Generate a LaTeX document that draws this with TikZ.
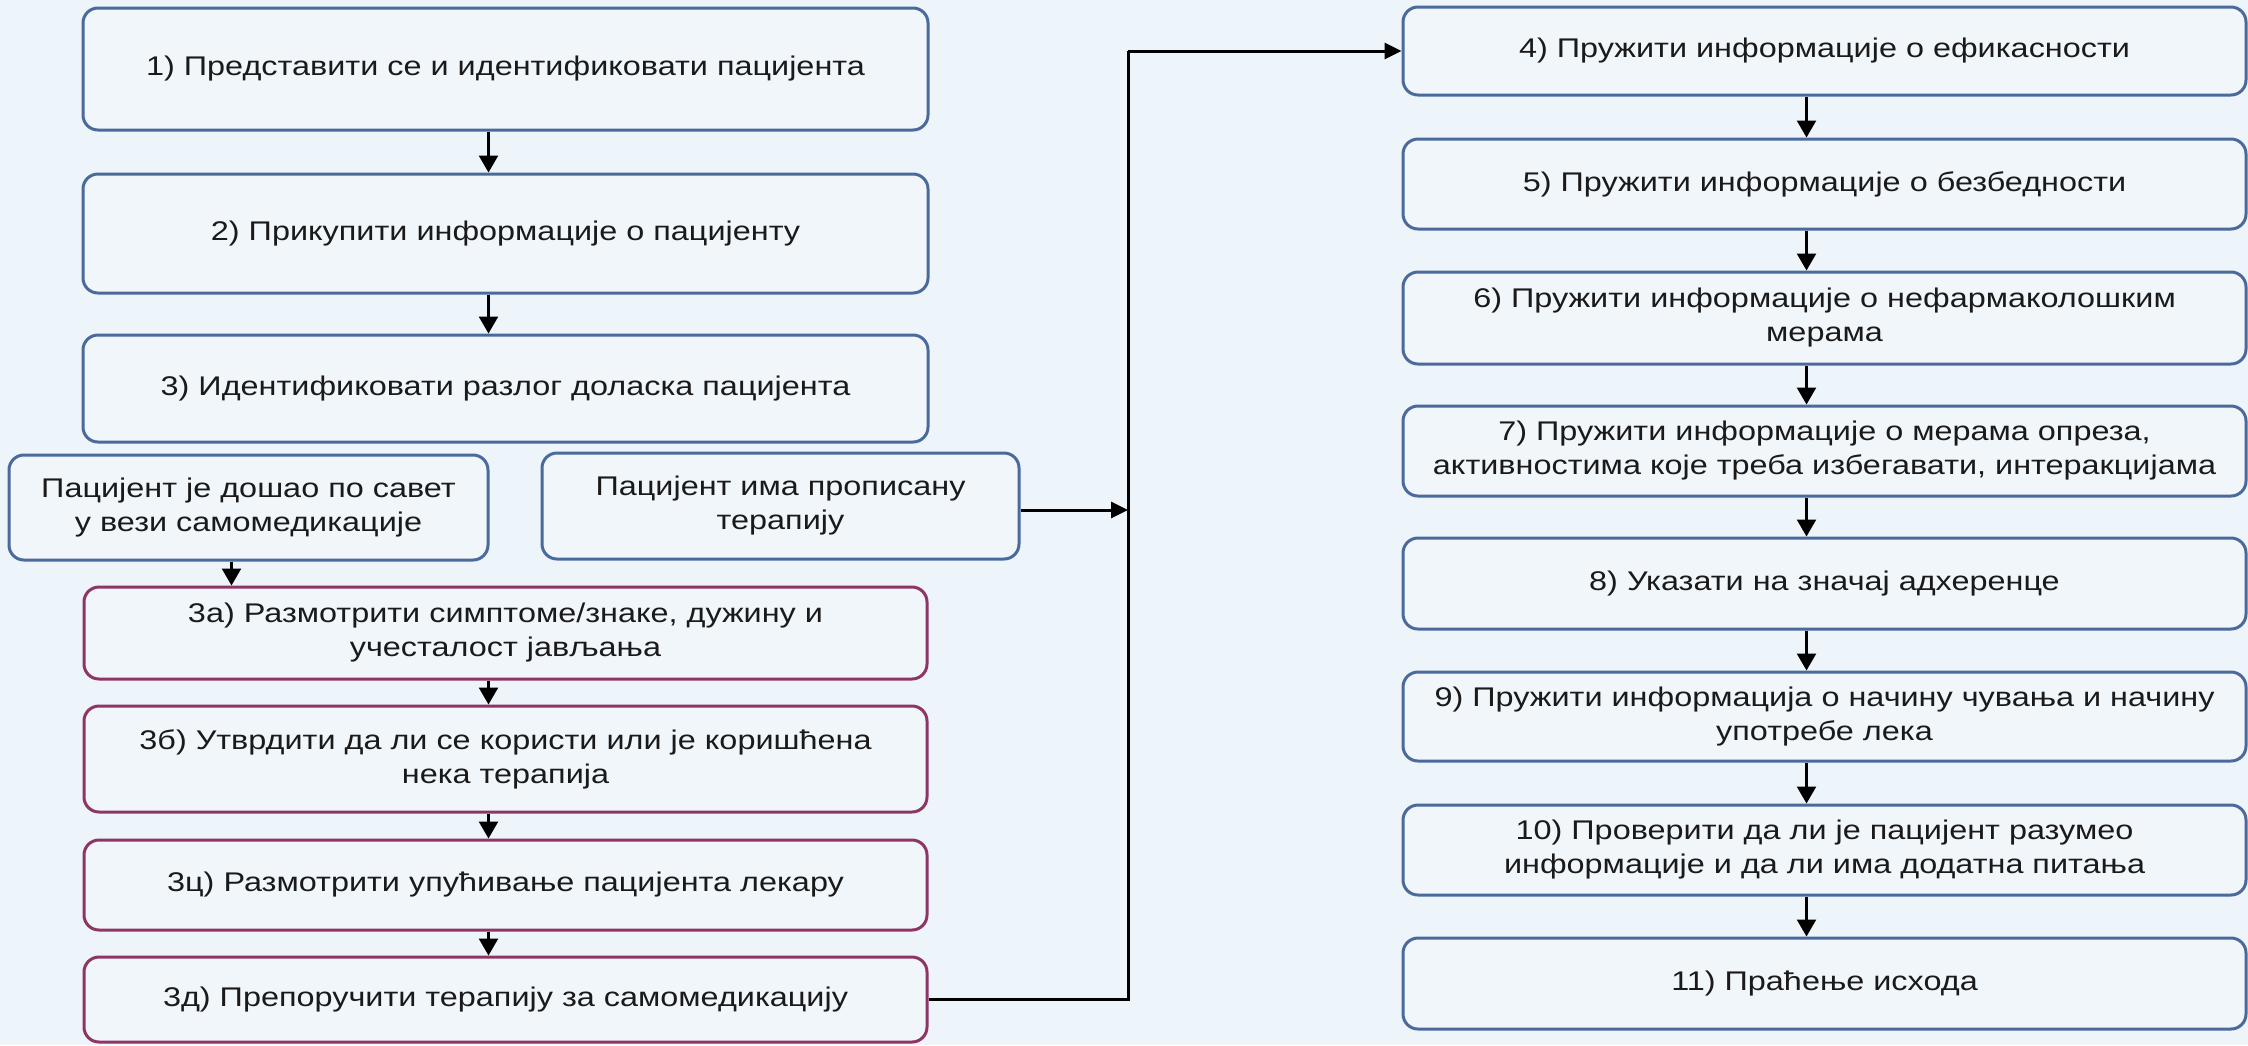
\documentclass[tikz,border=0pt]{standalone}
\usepackage{fontspec}
\setmainfont[FakeStretch=1.2]{Liberation Sans}
\usetikzlibrary{arrows.meta}
\definecolor{bgc}{HTML}{EDF4FA}
\definecolor{boxfill}{HTML}{F1F6FB}
\definecolor{blueb}{HTML}{4A6A9C}
\definecolor{pinkb}{HTML}{8E3565}
\definecolor{txt}{HTML}{1A1A1A}
\tikzset{
  base/.style={rectangle, rounded corners=15pt, line width=3pt, fill=boxfill,
    align=center, text=txt, inner sep=0pt,
    font=\fontsize{27}{34}\selectfont},
  bluebox/.style={base, draw=blueb},
  pinkbox/.style={base, draw=pinkb},
  arr/.style={line width=2.5pt, -{Triangle[width=19pt,length=17pt]}},
  conn/.style={line width=3pt},
}
\begin{document}
\begin{tikzpicture}[x=1pt,y=-1pt]
\useasboundingbox (0,0) rectangle (2248,1045);
\fill[bgc] (0,0) rectangle (2248,1045);

% left column
\node[bluebox, minimum width=845pt, minimum height=122pt] (b1) at (505.5,69) {1) Представити се и идентификовати пацијента};
\node[bluebox, minimum width=845pt, minimum height=119pt] (b2) at (505.5,233.5) {2) Прикупити информације о пацијенту};
\node[bluebox, minimum width=845pt, minimum height=107pt] (b3) at (505.5,388.5) {3) Идентификовати разлог доласка пацијента};
\node[bluebox, minimum width=479pt, minimum height=105pt] (s1) at (248.5,507.5) {Пацијент је дошао по савет\\у вези самомедикације};
\node[bluebox, minimum width=477pt, minimum height=106pt] (s2) at (780.5,506) {Пацијент има прописану\\терапију};
\node[pinkbox, minimum width=843pt, minimum height=92pt] (p3a) at (505.5,633) {3а) Размотрити симптоме/знаке, дужину и\\учесталост јављања};
\node[pinkbox, minimum width=843pt, minimum height=106pt] (p3b) at (505.5,759) {3б) Утврдити да ли се користи или је коришћена\\нека терапија};
\node[pinkbox, minimum width=843pt, minimum height=90pt] (p3c) at (505.5,885) {3ц) Размотрити упућивање пацијента лекару};
\node[pinkbox, minimum width=843pt, minimum height=85pt] (p3d) at (505.5,999.5) {3д) Препоручити терапију за самомедикацију};

% right column
\node[bluebox, minimum width=843pt, minimum height=88pt] (r4) at (1824.5,51) {4) Пружити информације о ефикасности};
\node[bluebox, minimum width=843pt, minimum height=90pt] (r5) at (1824.5,184) {5) Пружити информације о безбедности};
\node[bluebox, minimum width=843pt, minimum height=92pt] (r6) at (1824.5,318) {6) Пружити информације о нефармаколошким\\мерама};
\node[bluebox, minimum width=843pt, minimum height=90pt] (r7) at (1824.5,451) {7) Пружити информације о мерама опреза,\\активностима које треба избегавати, интеракцијама};
\node[bluebox, minimum width=843pt, minimum height=91pt] (r8) at (1824.5,583.5) {8) Указати на значај адхеренце};
\node[bluebox, minimum width=843pt, minimum height=89pt] (r9) at (1824.5,716.5) {9) Пружити информација о начину чувања и начину\\употребе лека};
\node[bluebox, minimum width=843pt, minimum height=90pt] (r10) at (1824.5,850) {10) Проверити да ли је пацијент разумео\\информације и да ли има додатна питања};
\node[bluebox, minimum width=843pt, minimum height=91pt] (r11) at (1824.5,983.5) {11) Праћење исхода};

% vertical arrows, left
\draw[arr] ([xshift=-17pt]b1.south) -- ([xshift=-17pt]b2.north);
\draw[arr] ([xshift=-17pt]b2.south) -- ([xshift=-17pt]b3.north);
\coordinate (s1a) at ([xshift=-17pt]s1.south);
\draw[arr] (s1a) -- (s1a |- p3a.north);
\draw[arr] ([xshift=-17pt]p3a.south) -- ([xshift=-17pt]p3b.north);
\draw[arr] ([xshift=-17pt]p3b.south) -- ([xshift=-17pt]p3c.north);
\draw[arr] ([xshift=-17pt]p3c.south) -- ([xshift=-17pt]p3d.north);

% vertical arrows, right
\draw[arr] ([xshift=-18pt]r4.south) -- ([xshift=-18pt]r5.north);
\draw[arr] ([xshift=-18pt]r5.south) -- ([xshift=-18pt]r6.north);
\draw[arr] ([xshift=-18pt]r6.south) -- ([xshift=-18pt]r7.north);
\draw[arr] ([xshift=-18pt]r7.south) -- ([xshift=-18pt]r8.north);
\draw[arr] ([xshift=-18pt]r8.south) -- ([xshift=-18pt]r9.north);
\draw[arr] ([xshift=-18pt]r9.south) -- ([xshift=-18pt]r10.north);
\draw[arr] ([xshift=-18pt]r10.south) -- ([xshift=-18pt]r11.north);

% connectors
\coordinate (jb) at (1128,999.5);
\coordinate (jt) at (1128,51);
\coordinate (s2e) at ([yshift=-4pt]s2.east);
\coordinate (jm) at (s2e -| jb);
\draw[conn] (p3d.east) -- (jb) -- (jt);
\draw[conn, -{Triangle[width=16pt,length=17pt]}] (jt) -- (r4.west);
\draw[conn, -{Triangle[width=16pt,length=17pt]}] (s2e) -- (jm);
\end{tikzpicture}
\end{document}
